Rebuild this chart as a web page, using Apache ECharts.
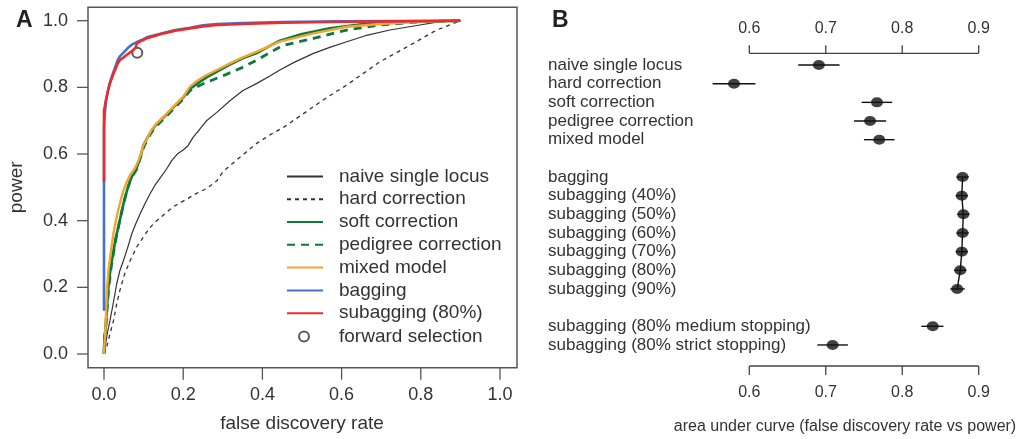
<!DOCTYPE html>
<html>
<head>
<meta charset="utf-8">
<script src="https://cdn.jsdelivr.net/npm/echarts@6/dist/echarts.min.js"></script>
<style>
  html, body { margin: 0; padding: 0; background: #fff; }
  #chart { width: 1030px; height: 439px; }
</style>
</head>
<body>
<div id="chart"></div>
<script>
// panel A: ROC-like curves, [false discovery rate, power]
const naiveCurve = [[0,0],[0.003,0.022],[0.008,0.06],[0.015,0.10],[0.023,0.15],[0.032,0.21],[0.04,0.25],[0.049,0.28],[0.06,0.32],[0.07,0.36],[0.08,0.39],[0.091,0.42],[0.103,0.45],[0.116,0.48],[0.128,0.505],[0.141,0.527],[0.158,0.555],[0.171,0.58],[0.185,0.60],[0.20,0.612],[0.212,0.625],[0.225,0.65],[0.242,0.675],[0.259,0.70],[0.285,0.725],[0.318,0.76],[0.35,0.79],[0.386,0.812],[0.42,0.835],[0.444,0.852],[0.48,0.875],[0.529,0.902],[0.57,0.92],[0.613,0.937],[0.66,0.955],[0.722,0.972],[0.798,0.987],[0.848,0.997],[0.9,1.0]];
const hardCurve = [[0,0],[0.007,0.022],[0.015,0.06],[0.024,0.10],[0.032,0.15],[0.04,0.19],[0.052,0.24],[0.066,0.28],[0.082,0.32],[0.099,0.35],[0.115,0.378],[0.133,0.40],[0.155,0.422],[0.175,0.442],[0.205,0.462],[0.234,0.482],[0.26,0.497],[0.285,0.52],[0.301,0.548],[0.335,0.582],[0.36,0.607],[0.386,0.632],[0.42,0.658],[0.453,0.68],[0.49,0.71],[0.529,0.742],[0.57,0.775],[0.613,0.807],[0.655,0.842],[0.697,0.877],[0.74,0.905],[0.781,0.932],[0.84,0.972],[0.9,1.0]];
const softCurve = [[0,0],[0.001,0.05],[0.003,0.065],[0.007,0.13],[0.011,0.2],[0.017,0.26],[0.024,0.31],[0.03,0.35],[0.036,0.38],[0.049,0.45],[0.058,0.49],[0.066,0.52],[0.075,0.545],[0.083,0.56],[0.092,0.59],[0.099,0.625],[0.11,0.65],[0.12,0.67],[0.133,0.69],[0.155,0.715],[0.175,0.74],[0.2,0.77],[0.217,0.795],[0.24,0.815],[0.259,0.83],[0.29,0.85],[0.318,0.868],[0.35,0.887],[0.386,0.903],[0.42,0.925],[0.444,0.94],[0.5,0.96],[0.57,0.977],[0.655,0.99],[0.75,0.997],[0.9,1.0]];
const pedigreeCurve = [[0,0],[0.001,0.05],[0.004,0.07],[0.008,0.14],[0.012,0.2],[0.018,0.26],[0.025,0.31],[0.031,0.35],[0.037,0.385],[0.049,0.45],[0.058,0.49],[0.066,0.52],[0.075,0.54],[0.083,0.555],[0.092,0.59],[0.1,0.62],[0.11,0.645],[0.12,0.665],[0.133,0.685],[0.155,0.71],[0.175,0.735],[0.2,0.765],[0.217,0.79],[0.24,0.805],[0.259,0.815],[0.28,0.825],[0.301,0.835],[0.35,0.86],[0.386,0.882],[0.42,0.905],[0.45,0.925],[0.529,0.947],[0.613,0.972],[0.697,0.987],[0.8,0.997],[0.9,1.0]];
const mixedCurve = [[0,0],[0,0.01],[0.0025,0.052],[0.005,0.12],[0.008,0.2],[0.012,0.26],[0.015,0.285],[0.02,0.33],[0.024,0.362],[0.03,0.40],[0.036,0.432],[0.042,0.46],[0.049,0.49],[0.057,0.515],[0.066,0.537],[0.077,0.555],[0.087,0.58],[0.093,0.60],[0.099,0.625],[0.11,0.65],[0.12,0.672],[0.133,0.692],[0.155,0.717],[0.175,0.742],[0.2,0.772],[0.217,0.802],[0.235,0.82],[0.259,0.837],[0.29,0.855],[0.318,0.872],[0.35,0.89],[0.386,0.907],[0.444,0.937],[0.529,0.962],[0.613,0.982],[0.697,0.99],[0.798,0.997],[0.9,1.0]];
const baggingCurve = [[0,0.13],[0,0.52],[0,0.68],[0.002,0.72],[0.005,0.76],[0.01,0.79],[0.015,0.815],[0.022,0.84],[0.028,0.86],[0.034,0.88],[0.04,0.893],[0.05,0.905],[0.06,0.918],[0.07,0.928],[0.083,0.936],[0.095,0.942],[0.108,0.95],[0.13,0.957],[0.15,0.963],[0.18,0.972],[0.217,0.979],[0.25,0.986],[0.285,0.99],[0.35,0.993],[0.45,0.996],[0.6,0.998],[0.9,1.0]];
const subaggingCurve = [[0,0.517],[0,0.73],[0.005,0.762],[0.01,0.79],[0.015,0.812],[0.022,0.835],[0.028,0.852],[0.034,0.87],[0.04,0.882],[0.05,0.89],[0.057,0.897],[0.066,0.905],[0.074,0.912],[0.08,0.92],[0.083,0.932],[0.095,0.94],[0.108,0.947],[0.13,0.955],[0.15,0.962],[0.18,0.97],[0.217,0.977],[0.25,0.983],[0.285,0.987],[0.35,0.99],[0.45,0.994],[0.6,0.997],[0.9,1.0]];
const forwardPoint = [[0.084, 0.904]];
const fdrTicks = [0, 0.2, 0.4, 0.6, 0.8, 1.0];
const powerTicks = [0, 0.2, 0.4, 0.6, 0.8, 1.0];

// panel B: area under curve with intervals
const aucLabels = ['naive single locus', 'hard correction', 'soft correction', 'pedigree correction', 'mixed model', ' ',
    'bagging', 'subagging (40%)', 'subagging (50%)', 'subagging (60%)', 'subagging (70%)', 'subagging (80%)', 'subagging (90%)', '  ',
    'subagging (80% medium stopping)', 'subagging (80% strict stopping)'];
const aucMean = [0.691, 0.580, 0.767, 0.758, 0.770, null, 0.879, 0.878, 0.880, 0.879, 0.878, 0.876, 0.872, null, 0.840, 0.709];
const aucLow  = [0.664, 0.552, 0.747, 0.737, 0.750, null, 0.871, 0.870, 0.872, 0.871, 0.870, 0.868, 0.863, null, 0.825, 0.689];
const aucHigh = [0.718, 0.608, 0.787, 0.779, 0.790, null, 0.887, 0.886, 0.888, 0.887, 0.886, 0.884, 0.882, null, 0.854, 0.729];
const subaggingRows = [6, 7, 8, 9, 10, 11, 12];
const aucTicks = [0.6, 0.7, 0.8, 0.9];

const fontFamily = 'Liberation Sans, Arial, sans-serif';
const textColor = '#333';
const axisColor = '#555';

const chart = echarts.init(document.getElementById('chart'));

// itemStyle opacity 0 only hides the dot of the legend icon, the curve uses lineStyle
const curve = (name, data, color, width, type) => ({
    name,
    type: 'line',
    xAxisIndex: 1,
    yAxisIndex: 1,
    data,
    symbol: 'none',
    clip: false,
    animation: false,
    lineStyle: { color, width, type },
    itemStyle: { color, opacity: 0 }
});

const helper = (gridIndex, extra) => ({ gridIndex, type: 'value', min: 0, max: 1, show: false, ...extra });
const tickFmt = v => v.toFixed(1);
const seg = (p, q, color) => ({ type: 'line', shape: { x1: p[0], y1: p[1], x2: q[0], y2: q[1] },
                                 style: { stroke: color, lineWidth: 1.3 } });

// axis ticks and lines drawn as custom series, placed through the axes' own scales
const tickSeries = (xi, yi, data, draw) => ({
    type: 'custom', xAxisIndex: xi, yAxisIndex: yi, data, clip: false, silent: true,
    animation: false, encode: { x: 0 }, renderItem: (params, api) => draw(api)
});

const pointsB = aucMean.map((v, i) => v == null ? null : [v, i]).filter(d => d);
const barsB = aucMean.map((v, i) => v == null ? null : [aucLow[i], aucHigh[i], i]).filter(d => d);

const option = {
    animation: false,
    textStyle: { fontFamily },
    title: [
        { text: 'A', left: 11, top: 4, textStyle: { fontSize: 23, fontWeight: 'bold', color: '#222', fontFamily } },
        { text: 'B', left: 547, top: 4, textStyle: { fontSize: 23, fontWeight: 'bold', color: '#222', fontFamily } },
        { text: 'area under curve (false discovery rate vs power)', left: 840, top: 414, textAlign: 'center',
          textStyle: { fontSize: 16, fontWeight: 'normal', color: textColor, fontFamily } }
    ],
    legend: [
        {
            orient: 'vertical', left: 286, top: 165, padding: 0, itemGap: 0,
            itemWidth: 36, itemHeight: 12,
            data: ['naive single locus', 'hard correction', 'soft correction', 'pedigree correction', 'mixed model', 'bagging', 'subagging (80%)'],
            textStyle: { fontSize: 19, color: textColor, lineHeight: 22.8, padding: [0, 0, 0, 11] }
        },
        {
            orient: 'vertical', left: 298, top: 325, padding: 0,
            itemWidth: 10, itemHeight: 10,
            data: ['forward selection'],
            textStyle: { fontSize: 19, color: textColor, lineHeight: 22.8, padding: [0, 0, 0, 25] }
        }
    ],
    grid: [
        { left: 88, right: 513, top: 7.3, bottom: 71.3, show: true, borderColor: axisColor, borderWidth: 1.5 },
        { left: 104, right: 530, top: 20.7, bottom: 85 },
        { left: 104, right: 530, top: 7.3, bottom: 71.3 },
        { left: 88, right: 530, top: 20.7, bottom: 85 },
        { left: 749.3, right: 51.3, top: 53.3, bottom: 73 },
        { left: 700, right: 40, top: 55.7, bottom: 84.7 }
    ],
    xAxis: [
        helper(0),
        helper(1),
        {
            gridIndex: 2, type: 'value', min: 0, max: 1, interval: 0.2,
            name: 'false discovery rate', nameLocation: 'middle', nameGap: 47,
            nameTextStyle: { fontSize: 19, color: textColor },
            axisLine: { show: false, onZero: true, onZeroAxisIndex: 2 },
            axisTick: { show: false },
            axisLabel: { fontSize: 18, color: textColor, margin: 18, formatter: tickFmt },
            splitLine: { show: false }
        },
        helper(3),
        {
            gridIndex: 4, type: 'value', position: 'top', min: 0.6, max: 0.9, interval: 0.1,
            axisLine: { show: false, onZero: true, onZeroAxisIndex: 5 },
            axisTick: { show: false },
            axisLabel: { fontSize: 16, color: textColor, margin: 17, formatter: tickFmt },
            splitLine: { show: false }
        },
        {
            gridIndex: 4, type: 'value', position: 'bottom', min: 0.6, max: 0.9, interval: 0.1,
            axisLine: { show: false, onZero: true, onZeroAxisIndex: 4 },
            axisTick: { show: false },
            axisLabel: { fontSize: 16, color: textColor, margin: 19, formatter: tickFmt },
            splitLine: { show: false }
        },
        { gridIndex: 5, type: 'value', min: 0.5355, max: 0.9149, show: false }
    ],
    yAxis: [
        helper(0),
        helper(1),
        helper(2),
        {
            gridIndex: 3, type: 'value', min: 0, max: 1, interval: 0.2,
            name: 'power', nameLocation: 'middle', nameGap: 62,
            nameTextStyle: { fontSize: 19, color: textColor },
            axisLine: { show: false, onZero: true, onZeroAxisIndex: 3 },
            axisTick: { show: false },
            axisLabel: { fontSize: 18, color: textColor, margin: 20, formatter: tickFmt },
            splitLine: { show: false }
        },
        helper(4, { position: 'left' }),
        helper(4, { position: 'right', inverse: true }),
        {
            gridIndex: 5, type: 'category', inverse: true, data: aucLabels,
            axisLine: { show: false }, axisTick: { show: false },
            axisLabel: { align: 'left', margin: 152, fontSize: 17, color: textColor, interval: 0 },
            splitLine: { show: false }
        }
    ],
    series: [
        curve('naive single locus', naiveCurve, '#333', 1.2, 'solid'),
        curve('hard correction', hardCurve, '#333', 1.3, [4, 4]),
        curve('soft correction', softCurve, '#0d7a3a', 2.6, 'solid'),
        curve('pedigree correction', pedigreeCurve, '#0d7a3a', 2.8, [8, 6]),
        curve('mixed model', mixedCurve, '#f2a531', 2.4, 'solid'),
        curve('bagging', baggingCurve, '#4472c9', 2.6, 'solid'),
        curve('subagging (80%)', subaggingCurve, '#ee2b2b', 2.6, 'solid'),
        {
            name: 'forward selection', type: 'scatter', xAxisIndex: 1, yAxisIndex: 1,
            data: forwardPoint, symbol: 'emptyCircle', symbolSize: 10, clip: false, animation: false,
            itemStyle: { color: '#333', borderColor: '#333', borderWidth: 1.3 }
        },
        // panel A ticks: x ticks hang below the box, y ticks stick out left of it
        tickSeries(2, 2, fdrTicks.map(v => [v]), api => {
            const p = api.coord([api.value(0), 0]);
            return seg(p, [p[0], p[1] + 12], axisColor);
        }),
        {
            ...tickSeries(3, 3, powerTicks.map(v => [0, v]), api => {
                const p = api.coord([0, api.value(1)]);
                return seg(p, [p[0] - 11, p[1]], axisColor);
            }),
            encode: { x: 0, y: 1 }
        },
        // panel B: top and bottom scale with ticks
        tickSeries(4, 4, aucTicks.map(v => [v]), api => {
            const v = api.value(0);
            const top = api.coord([v, 1]);
            const bottom = api.coord([v, 0]);
            return { type: 'group', children: [
                seg(top, [top[0], top[1] - 8], '#444'),
                seg(bottom, [bottom[0], bottom[1] + 9], '#444')
            ] };
        }),
        {
            ...tickSeries(4, 4, [[aucTicks[0], aucTicks[aucTicks.length - 1]]], api => {
                const a = api.value(0), b = api.value(1);
                return { type: 'group', children: [
                    seg(api.coord([a, 1]), api.coord([b, 1]), '#444'),
                    seg(api.coord([a, 0]), api.coord([b, 0]), '#444')
                ] };
            }),
            encode: { x: [0, 1] }
        },
        {
            type: 'custom', xAxisIndex: 6, yAxisIndex: 6, data: barsB, animation: false,
            encode: { x: [0, 1], y: 2 },
            renderItem: (params, api) => {
                const a = api.coord([api.value(0), api.value(2)]);
                const b = api.coord([api.value(1), api.value(2)]);
                return { type: 'line', shape: { x1: a[0], y1: a[1], x2: b[0], y2: b[1] },
                         style: { stroke: '#111', lineWidth: 1.4 } };
            }
        },
        {
            type: 'line', xAxisIndex: 6, yAxisIndex: 6, symbol: 'none', animation: false,
            data: subaggingRows.map(i => [aucMean[i], i]),
            lineStyle: { color: '#111', width: 1.4 }
        },
        {
            type: 'scatter', xAxisIndex: 6, yAxisIndex: 6, data: pointsB, animation: false,
            symbol: 'circle', symbolSize: [12, 10],
            itemStyle: { color: '#111' }
        }
    ]
};

chart.setOption(option);
</script>
</body>
</html>
